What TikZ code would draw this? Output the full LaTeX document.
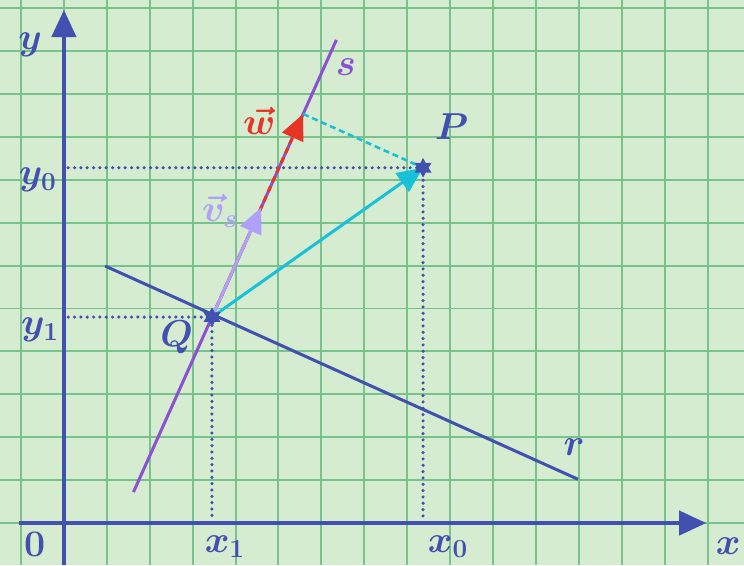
\documentclass[tikz,border=0pt]{standalone}
\usepackage{amsmath,amssymb}
\usepackage{xcolor}
\usepackage{tikz}
\usetikzlibrary{arrows.meta, positioning, calc, shapes.geometric}
\definecolor{axisBlue}{RGB}{66, 80, 176}
\definecolor{paperGreen}{RGB}{214, 236, 208}
\definecolor{gridGreen}{RGB}{120, 194, 140}
\definecolor{lineS}{RGB}{140, 80, 210}
\definecolor{vecV}{RGB}{176, 160, 248}
\definecolor{vecW}{RGB}{232, 52, 36}
\definecolor{vecC}{RGB}{24, 192, 216}

\begin{document}
\begin{tikzpicture}[
    axis/.style={line width=2.6pt, axisBlue, -{Triangle[length=18pt, width=16pt]}},
    vector/.style={line width=2pt, -{Triangle[length=17pt, width=15pt]}},
    guide/.style={axisBlue, line width=2.3pt, line cap=round, dash pattern=on 0pt off 4.2pt},
    lbl/.style={font=\fontsize{24}{24}\selectfont\boldmath},
    marker/.style={star, star points=6, star point ratio=1.8, fill=axisBlue, minimum size=13pt, inner sep=0pt}
]

% Paper and grid
\fill[paperGreen] (-1.49, -0.98) rectangle (15.85, 12.19);
\useasboundingbox (-1.49, -0.98) rectangle (15.85, 12.19);
\draw[gridGreen, line width=1.3pt] (-1.49, -0.98) grid (15.85, 12.19);

% Points
\coordinate (Q) at (3.45, 4.80);
\coordinate (P) at (8.37, 8.28);
\coordinate (sStart) at (1.62, 0.72);
\coordinate (sEnd) at (6.35, 11.26);
\coordinate (rStart) at (0.96, 5.99);
\coordinate (rEnd) at (11.98, 1.02);
\coordinate (foot) at ($(sStart)!(P)!(sEnd)$);
\coordinate (vTip) at ($(Q)!0.54!(foot)$);

% Axes
\coordinate (xFrom) at (-1.05, 0);
\coordinate (xTo) at (14.97, 0);
\coordinate (yFrom) at (0, -0.98);
\coordinate (yTo) at (0, 11.96);
\draw[axis] (xFrom) -- (xTo);
\draw[axis] (yFrom) -- (yTo);

% Projections on the axes
\coordinate (yP) at (0.1, 8.28);
\coordinate (xP) at (8.37, 0.08);
\coordinate (yQ) at (0.1, 4.80);
\coordinate (xQ) at (3.45, 0.08);
\draw[guide] (yP) -- (P) -- (xP);
\draw[guide] (yQ) -- (Q) -- (xQ);

% Lines r and s
\draw[axisBlue, line width=2pt] (rStart) -- (rEnd);
\draw[lineS, line width=2pt] (sStart) -- (sEnd);

% Vectors
\draw[vecC, line width=1.7pt, dash pattern=on 4pt off 2.5pt] (foot) -- (P);
\draw[vector, vecW, dash pattern=on 4pt off 3pt] (Q) -- (foot);
\draw[vector, vecV] (Q) -- (vTip);
\draw[vector, vecC] (Q) -- (P);

% Point marks
\node[marker] (Pmark) at (P) {};
\node[marker] (Qmark) at (Q) {};

% Labels
\node[lbl, axisBlue] (yLabel) at (-0.79, 11.14) {$y$};
\node[lbl, axisBlue] (xLabel) at (15.48, -0.55) {$x$};
\node[lbl, axisBlue] (oLabel) at (-0.68, -0.51) {$0$};
\node[lbl, axisBlue] (y0Label) at (-0.61, 8.0) {$y_0$};
\node[lbl, axisBlue] (y1Label) at (-0.56, 4.5) {$y_1$};
\node[lbl, axisBlue] (x1Label) at (3.75, -0.55) {$x_1$};
\node[lbl, axisBlue] (x0Label) at (8.95, -0.55) {$x_0$};
\node[lbl, axisBlue] (pLabel) at (9.04, 9.23) {$P$};
\node[lbl, axisBlue] (qLabel) at (2.63, 4.34) {$Q$};
\node[lbl, axisBlue] (rLabel) at (11.89, 1.77) {$r$};
\node[lbl, lineS] (sLabel) at (6.57, 10.63) {$s$};
\node[lbl, vecW] (wLabel) at (4.55, 9.38) {$\vec{w}$};
\node[lbl, vecV] (vLabel) at (3.64, 7.28) {$\vec{v}_s$};

\end{tikzpicture}
\end{document}
